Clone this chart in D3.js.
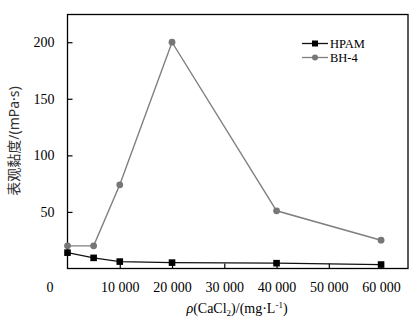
<!DOCTYPE html>
<html>
<head>
<meta charset="utf-8">
<script src="https://cdn.jsdelivr.net/npm/d3@7/dist/d3.min.js"></script>
<style>
  body { margin: 0; background: #fff; }
  svg text { font-family: "Liberation Serif", "Times New Roman", serif; }
</style>
</head>
<body>
<svg id="chart" width="417" height="327"></svg>
<script>
// CaCl2 concentration (mg/L) and apparent viscosity (mPa·s)
const concentrations = [0, 5000, 10000, 20000, 40000, 60000];
const hpamValues = [14, 9.4, 6.1, 5.2, 4.7, 3.5];
const bh4Values = [20, 20, 74, 200, 51, 25];
const xTicks = [10000, 20000, 30000, 40000, 50000, 60000];
const yTicks = [50, 100, 150, 200];
const seriesNames = ["HPAM", "BH-4"];

const serif = "'Liberation Serif', 'Times New Roman', serif";
const svg = d3.select("#chart");
const plotLeft = 67.5, plotRight = 408, plotTop = 14.5, plotBottom = 268.5;

const x = d3.scaleLinear().domain([0, 65150]).range([plotLeft, plotRight]);
const y = d3.scaleLinear().domain([0, 224.5]).range([plotBottom, plotTop]);

const fmt = v => d3.format(",")(v).replace(/,/g, " ");

// frame
svg.append("rect")
  .attr("x", plotLeft).attr("y", plotTop)
  .attr("width", plotRight - plotLeft).attr("height", plotBottom - plotTop)
  .attr("fill", "none").attr("stroke", "#000").attr("stroke-width", 1.3);

// bottom axis, ticks pointing inward
const xAxis = svg.append("g").attr("transform", `translate(0,${plotBottom})`)
  .call(d3.axisBottom(x).tickValues(xTicks).tickSizeInner(-5).tickSizeOuter(0).tickPadding(14).tickFormat(fmt));
xAxis.attr("font-family", null);
xAxis.select(".domain").remove();
xAxis.selectAll("line").attr("stroke", "#000").attr("stroke-width", 1.2);
xAxis.selectAll("text").attr("fill", "#000")
  .style("font-family", serif).style("font-size", "14px");

// shared origin label
svg.append("text").attr("x", 50).attr("y", 292)
  .attr("text-anchor", "middle").style("font-family", serif).style("font-size", "14px").text("0");

// left axis, ticks pointing inward
const yAxis = svg.append("g").attr("transform", `translate(${plotLeft},0)`)
  .call(d3.axisLeft(y).tickValues(yTicks).tickSizeInner(-5).tickSizeOuter(0).tickPadding(13));
yAxis.attr("font-family", null);
yAxis.select(".domain").remove();
yAxis.selectAll("line").attr("stroke", "#000").attr("stroke-width", 1.2);
yAxis.selectAll("text").attr("fill", "#000")
  .style("font-family", serif).style("font-size", "14px");

// axis titles
const yl = svg.append("text")
  .attr("transform", "translate(19,141) rotate(-90)")
  .attr("text-anchor", "middle")
  .attr("fill", "#333")
  .style("font-family", "'Noto Sans CJK SC', sans-serif")
  .style("font-size", "14px");
yl.append("tspan").text("表观黏度");
yl.append("tspan").style("font-family", "'Noto Sans', sans-serif").text("/(mPa·s)");

const xl = svg.append("text").attr("x", 237).attr("y", 313)
  .attr("text-anchor", "middle").style("font-family", serif).style("font-size", "14px");
xl.append("tspan").attr("font-style", "italic").text("ρ");
xl.append("tspan").text("(CaCl");
xl.append("tspan").style("font-size", "9px").attr("dy", 3).text("2");
xl.append("tspan").attr("dy", -3).text(")/(mg·L");
xl.append("tspan").style("font-size", "9px").attr("dy", -5).text("-1");
xl.append("tspan").attr("dy", 5).text(")");

const line = d3.line().x((d, i) => x(concentrations[i])).y(d => y(d));

// BH-4 series
svg.append("path").datum(bh4Values).attr("d", line)
  .attr("fill", "none").attr("stroke", "#7f7f7f").attr("stroke-width", 1.4);
svg.selectAll("circle.bh4").data(bh4Values).enter().append("circle")
  .attr("cx", (d, i) => x(concentrations[i])).attr("cy", d => y(d))
  .attr("r", 3.4).attr("fill", "#777");

// HPAM series
svg.append("path").datum(hpamValues).attr("d", line)
  .attr("fill", "none").attr("stroke", "#111").attr("stroke-width", 1.3);
svg.selectAll("rect.hpam").data(hpamValues).enter().append("rect")
  .attr("x", (d, i) => x(concentrations[i]) - 3.3).attr("y", d => y(d) - 3.3)
  .attr("width", 6.6).attr("height", 6.6).attr("fill", "#000");

// legend
const legend = svg.append("g");
const legendItems = [
  { name: seriesNames[0], color: "#000", stroke: "#111", shape: "square", y: 43.5 },
  { name: seriesNames[1], color: "#777", stroke: "#7f7f7f", shape: "circle", y: 57.5 }
];
legendItems.forEach(it => {
  legend.append("line").attr("x1", 302).attr("x2", 328).attr("y1", it.y).attr("y2", it.y)
    .attr("stroke", it.stroke).attr("stroke-width", 1.3);
  if (it.shape === "square") {
    legend.append("rect").attr("x", 315 - 3).attr("y", it.y - 3).attr("width", 6).attr("height", 6).attr("fill", it.color);
  } else {
    legend.append("circle").attr("cx", 315).attr("cy", it.y).attr("r", 3).attr("fill", it.color);
  }
  legend.append("text").attr("x", 330).attr("y", it.y + 4.5)
    .style("font-family", serif).style("font-size", "12.5px").text(it.name);
});
</script>
</body>
</html>
